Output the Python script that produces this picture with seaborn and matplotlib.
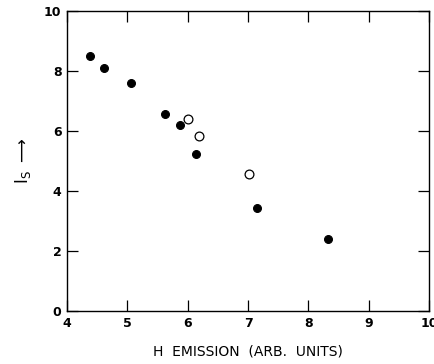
import matplotlib
matplotlib.use("Agg")
import matplotlib.pyplot as plt
import pandas as pd
import seaborn as sns

# filled circles
filled_x = [4.38, 4.62, 5.06, 5.62, 5.87, 6.14, 7.15, 8.33]
filled_y = [8.50, 8.10, 7.59, 6.57, 6.21, 5.22, 3.42, 2.41]

# open circles
open_x = [6.00, 6.19, 7.02]
open_y = [6.41, 5.83, 4.56]

x_ticks = [4, 5, 6, 7, 8, 9, 10]
y_ticks = [0, 2, 4, 6, 8, 10]

sns.set_style("ticks", {"text.color": "black", "xtick.color": "black",
                        "ytick.color": "black", "axes.labelcolor": "black"})
plt.rcParams["font.family"] = ["DejaVu Sans"]

fig = plt.figure(figsize=(4.34, 3.64), dpi=100)
ax = fig.add_axes([0.1544, 0.1456, 0.8341, 0.8242])

df_f = pd.DataFrame({"x": filled_x, "y": filled_y})
df_o = pd.DataFrame({"x": open_x, "y": open_y})

sns.scatterplot(data=df_f, x="x", y="y", ax=ax, color="black", s=32,
                edgecolor="black", linewidth=0.8, zorder=3)
sns.scatterplot(data=df_o, x="x", y="y", ax=ax, facecolor="white", s=40,
                edgecolor="black", linewidth=0.9, zorder=3)

ax.set_xlim(4, 10)
ax.set_ylim(0, 10)
ax.set_xticks(x_ticks)
ax.set_yticks(y_ticks)
ax.set_xticklabels([str(t) for t in x_ticks], fontsize=9, fontweight="bold")
ax.set_yticklabels([str(t) for t in y_ticks], fontsize=9, fontweight="bold")

ax.tick_params(direction="in", length=8, width=0.9, top=True, right=True,
               labeltop=False, labelright=False, pad=4, colors="black")
for sp in ax.spines.values():
    sp.set_visible(True)
    sp.set_linewidth(1.0)
    sp.set_color("black")

ax.set_xlabel("H  EMISSION  (ARB.  UNITS)", fontsize=10, labelpad=11,
              color="black")
ax.set_ylabel(r"$\mathregular{I_S}$ $\longrightarrow$", fontsize=12,
              labelpad=8, color="black")

fig.savefig("out.png", dpi=100)
